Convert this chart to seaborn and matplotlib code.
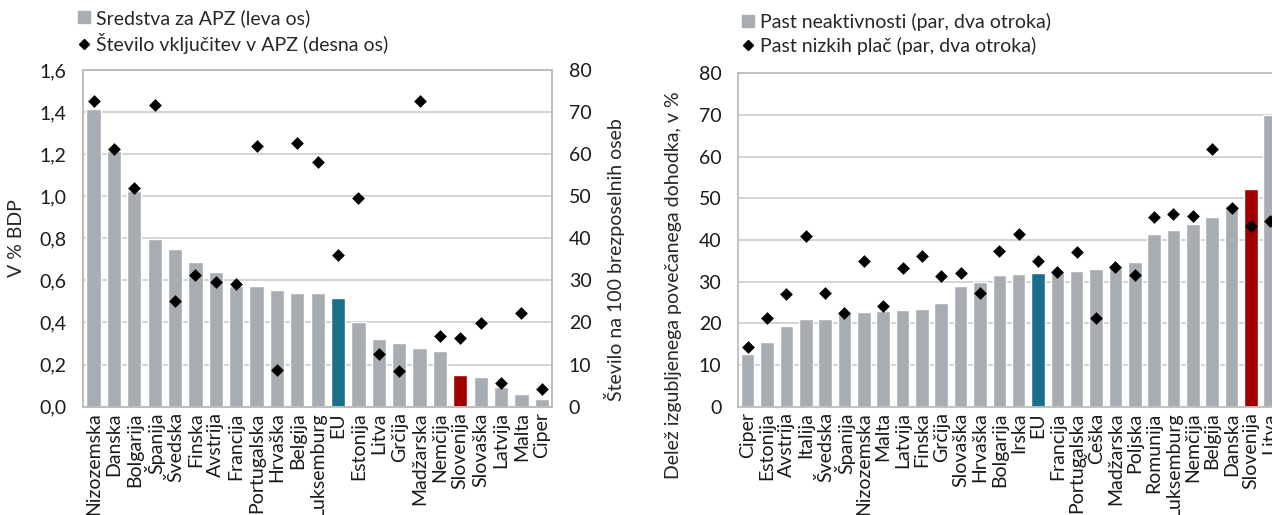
import numpy as np
import pandas as pd
import matplotlib
matplotlib.use("Agg")
import matplotlib.pyplot as plt
import seaborn as sns
from matplotlib.ticker import FuncFormatter, MultipleLocator
from matplotlib.lines import Line2D

# Left panel: spending on ALMP (% GDP) and participants per 100 unemployed
apz_countries = ["Nizozemska", "Danska", "Bolgarija", "Španija", "Švedska", "Finska",
                 "Avstrija", "Francija", "Portugalska", "Hrvaška", "Belgija",
                 "Luksemburg", "EU", "Estonija", "Litva", "Grčija", "Madžarska",
                 "Nemčija", "Slovenija", "Slovaška", "Latvija", "Malta", "Ciper"]
apz_spending = [1.414, 1.213, 1.027, 0.795, 0.747, 0.689, 0.641, 0.575, 0.572, 0.555,
                0.539, 0.539, 0.515, 0.401, 0.322, 0.303, 0.280, 0.264, 0.152, 0.139,
                0.092, 0.062, 0.035]
apz_participants = [72.5, 61.1, 51.9, 71.7, 25.0, 31.2, 29.5, 29.2, 62.0, 8.7, 62.6,
                    58.2, 36.0, 49.6, 12.6, 8.4, 72.6, 16.7, 16.4, 19.8, 5.6, 22.2, 4.3]

# Right panel: inactivity trap and low wage trap (couple, two children)
trap_countries = ["Ciper", "Estonija", "Avstrija", "Italija", "Švedska", "Španija",
                  "Nizozemska", "Malta", "Latvija", "Finska", "Grčija", "Slovaška",
                  "Hrvaška", "Bolgarija", "Irska", "EU", "Francija", "Portugalska",
                  "Češka", "Madžarska", "Poljska", "Romunija", "Luksemburg", "Nemčija",
                  "Belgija", "Danska", "Slovenija", "Litva"]
inactivity_trap = [12.6, 15.5, 19.3, 21.0, 21.1, 22.5, 22.7, 23.0, 23.2, 23.4, 25.0,
                   29.0, 29.9, 31.5, 31.8, 32.1, 32.2, 32.5, 33.0, 33.4, 34.7, 41.4,
                   42.5, 43.9, 45.6, 48.5, 52.3, 70.0]
low_wage_trap = [14.3, 21.2, 27.0, 40.9, 27.4, 22.5, 35.0, 24.2, 33.2, 36.1, 31.4,
                 32.0, 27.2, 37.3, 41.5, 34.9, 32.2, 37.1, 21.4, 33.4, 31.7, 45.6,
                 46.2, 45.8, 61.9, 47.7, 43.3, 44.5]

GREY = "#A7ADB3"
EU_BLUE = "#1A6F8B"
SI_RED = "#A00000"
GRID = "#D0D0D0"
SPINE = "#BDBDBD"
FS = 14


def bar_colors(countries):
    return [EU_BLUE if c == "EU" else SI_RED if c == "Slovenija" else GREY
            for c in countries]


def comma(x, pos):
    return ("%.1f" % x).replace(".", ",")


def style_axes(ax):
    for s in ax.spines.values():
        s.set_color(SPINE)
        s.set_linewidth(1.3)
    ax.tick_params(length=0, pad=12, labelsize=FS, colors="#1a1a1a")


sns.set_style("white")
plt.rcParams["font.family"] = ["Lato", "DejaVu Sans"]
plt.rcParams["font.size"] = FS

fig = plt.figure(figsize=(12.72, 5.15), dpi=100)
ax1 = fig.add_axes([0.0655, 0.2103, 0.3685, 0.654])
ax2 = fig.add_axes([0.5802, 0.2103, 0.426, 0.6474])

# ---- left panel
left = pd.DataFrame({"country": apz_countries, "spending": apz_spending,
                     "participants": apz_participants})
sns.barplot(data=left, x="country", y="spending", hue="country",
            palette=bar_colors(apz_countries), saturation=1, width=0.7,
            legend=False, ax=ax1, zorder=2)
ax1r = ax1.twinx()
sns.stripplot(data=left, x="country", y="participants", jitter=False, marker="D",
              color="black", size=6.5, ax=ax1r, zorder=3)

ax1.set_ylim(0, 1.6)
ax1.yaxis.set_major_locator(MultipleLocator(0.2))
ax1.yaxis.set_major_formatter(FuncFormatter(comma))
ax1r.set_ylim(0, 80)
ax1r.yaxis.set_major_locator(MultipleLocator(10))
ax1.set_xlim(-0.5, len(apz_countries) - 0.5)
ax1.grid(axis="y", color=GRID, lw=1.3)
ax1.set_axisbelow(True)
ax1.set_xlabel("")
ax1.set_ylabel("V % BDP", fontsize=FS)
ax1.yaxis.set_label_coords(-0.125, 0.5)
ax1r.set_xlabel("")
ax1r.set_ylabel("Število na 100 brezposelnih oseb", fontsize=FS)
ax1r.yaxis.set_label_coords(1.111, 0.436)
style_axes(ax1)
style_axes(ax1r)
ax1.tick_params(axis="x", rotation=90, pad=4)

# ---- right panel
right = pd.DataFrame({"country": trap_countries, "inactivity": inactivity_trap,
                      "low_wage": low_wage_trap})
sns.barplot(data=right, x="country", y="inactivity", hue="country",
            palette=bar_colors(trap_countries), saturation=1, width=0.7,
            legend=False, ax=ax2, zorder=2)
sns.stripplot(data=right, x="country", y="low_wage", jitter=False, marker="D",
              color="black", size=6.5, ax=ax2, zorder=3)
ax2.set_ylim(0, 80)
ax2.yaxis.set_major_locator(MultipleLocator(10))
ax2.set_xlim(-0.5, len(trap_countries) - 0.5)
ax2.grid(axis="y", color=GRID, lw=1.3)
ax2.set_axisbelow(True)
ax2.set_xlabel("")
ax2.set_ylabel("Delež izgubljenega povečanega dohodka, v %", fontsize=FS)
ax2.yaxis.set_label_coords(-0.103, 0.365)
style_axes(ax2)
ax2.tick_params(axis="x", rotation=90, pad=4)

# ---- legends
def legend_handles():
    return [Line2D([], [], marker="s", color=GREY, ls="", markersize=9),
            Line2D([], [], marker="D", color="black", ls="", markersize=5.5)]

fig.legend(legend_handles(),
           ["Sredstva za APZ (leva os)", "Število vključitev v APZ (desna os)"],
           loc="upper left", bbox_to_anchor=(0.060, 0.982), frameon=False,
           fontsize=FS, handlelength=0.8, handletextpad=0.2, labelspacing=0.3,
           borderpad=0, borderaxespad=0)
fig.legend(legend_handles(),
           ["Past neaktivnosti (par, dva otroka)", "Past nizkih plač (par, dva otroka)"],
           loc="upper left", bbox_to_anchor=(0.582, 0.975), frameon=False,
           fontsize=FS, handlelength=0.8, handletextpad=0.2, labelspacing=0.3,
           borderpad=0, borderaxespad=0)

fig.savefig("out.png", dpi=100)
